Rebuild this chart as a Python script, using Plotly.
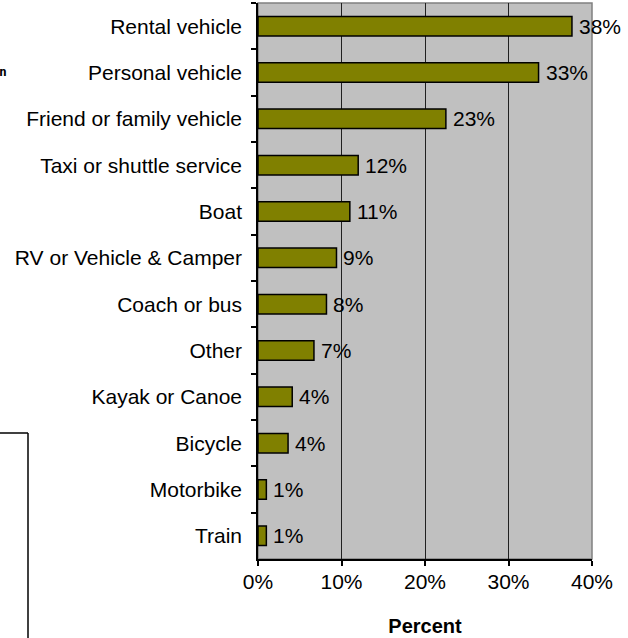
import plotly.graph_objects as go

categories = ["Rental vehicle", "Personal vehicle", "Friend or family vehicle",
              "Taxi or shuttle service", "Boat", "RV or Vehicle & Camper",
              "Coach or bus", "Other", "Kayak or Canoe", "Bicycle",
              "Motorbike", "Train"]
values = [37.6, 33.6, 22.5, 12.0, 11.0, 9.4, 8.2, 6.7, 4.1, 3.6, 1.0, 1.0]
value_labels = ["38%", "33%", "23%", "12%", "11%", "9%", "8%", "7%", "4%",
                "4%", "1%", "1%"]
x_tick_vals = [0, 10, 20, 30, 40]
x_tick_text = ["0%", "10%", "20%", "30%", "40%"]
x_title = "Percent"

FONT = "Liberation Sans, Arial, sans-serif"
W, H = 628, 638
ML, MR, MT, MB = 258, 36, 3, 79
PW, PH = W - ML - MR, H - MT - MB


def px_x(p):
    return (p - ML) / PW


def px_y(p):
    return (H - MB - p) / PH


fig = go.Figure()
fig.add_trace(go.Bar(
    x=values, y=categories, orientation="h",
    marker=dict(color="#808000", line=dict(color="black", width=1.5)),
    width=0.42, hoverinfo="skip",
))

annotations = []
for cat, v, lab in zip(categories, values, value_labels):
    annotations.append(dict(
        x=v, y=cat, xref="x", yref="y", text=lab, showarrow=False,
        xanchor="left", yanchor="middle", xshift=5,
        font=dict(family=FONT, size=21, color="black"),
    ))

# partial glyph at far left of the reference
annotations.append(dict(
    x=px_x(9), y=px_y(71), xref="paper", yref="paper", text="<b>n</b>",
    showarrow=False, xanchor="right", yanchor="middle",
    font=dict(family="DejaVu Sans Mono", size=13, color="black"),
))

shapes = [
    # plot-area border (gray)
    dict(type="rect", xref="paper", yref="paper", x0=0, x1=1, y0=0, y1=1,
         line=dict(color="#808080", width=1.5), layer="below"),
    # left-edge box fragment
    dict(type="line", xref="paper", yref="paper", x0=px_x(-2), x1=px_x(28),
         y0=px_y(433), y1=px_y(433), line=dict(color="black", width=1.5)),
    dict(type="line", xref="paper", yref="paper", x0=px_x(28), x1=px_x(28),
         y0=px_y(433), y1=px_y(645), line=dict(color="black", width=1.5)),
]

fig.update_layout(
    width=W, height=H,
    margin=dict(l=ML, r=MR, t=MT, b=MB, pad=0),
    paper_bgcolor="white", plot_bgcolor="#C0C0C0",
    showlegend=False,
    font=dict(family=FONT, size=21, color="black"),
    annotations=annotations, shapes=shapes,
    xaxis=dict(
        range=[0, 40], tickvals=x_tick_vals, ticktext=x_tick_text,
        showgrid=True, gridcolor="#202020", gridwidth=1,
        showline=True, linecolor="black", linewidth=1.5,
        ticks="outside", ticklen=5, tickcolor="black", tickwidth=1.5,
        zeroline=False, ticklabelstandoff=-2,
        tickfont=dict(family=FONT, size=21, color="black"),
        title=dict(text="<b>" + x_title + "</b>", standoff=27,
                   font=dict(family=FONT, size=20, color="black")),
        fixedrange=True,
    ),
    yaxis=dict(
        autorange="reversed", type="category",
        showgrid=False, showline=True, linecolor="black", linewidth=1.5,
        ticks="outside", tickson="boundaries", ticklen=5,
        tickcolor="black", tickwidth=1.5, ticklabelstandoff=10,
        tickfont=dict(family=FONT, size=21, color="black"),
        fixedrange=True,
    ),
)

fig.write_html("out.html", config={"displayModeBar": False},
               post_script="document.body.style.margin='0';")
